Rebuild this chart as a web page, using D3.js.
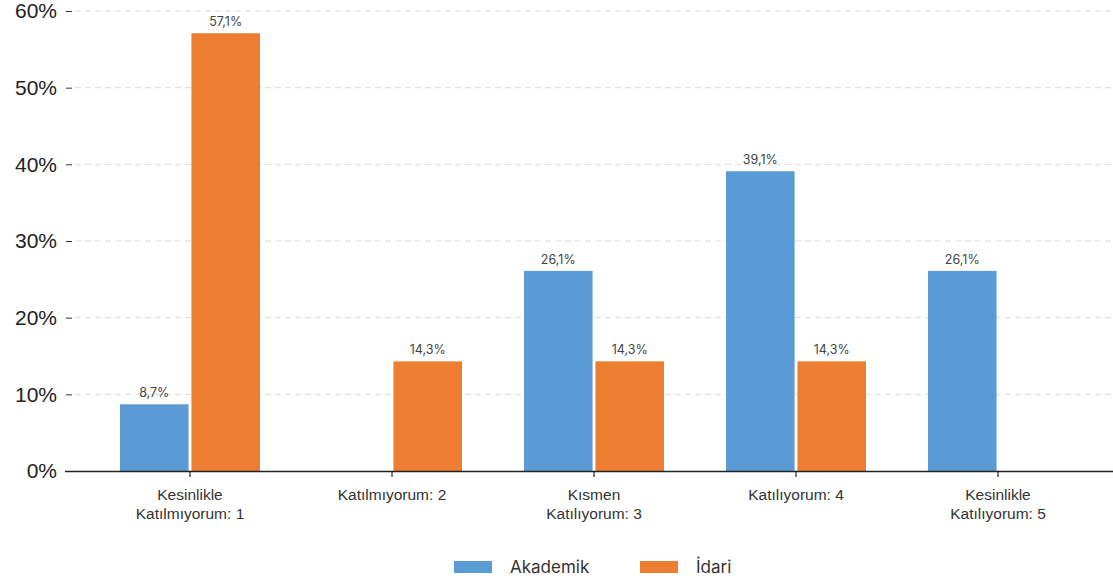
<!DOCTYPE html>
<html>
<head>
<meta charset="utf-8">
<script src="https://cdn.jsdelivr.net/npm/d3@7"></script>
<style>
	body { margin: 0; background: #fff; }
	svg { font-family: Inter, "Open Sans", sans-serif; }
	.grid line { stroke: #d9d9d9; stroke-dasharray: 6,4; }
	.axis--y .domain { display: none; }
	.axis--y text { font-size: 21px; fill: #222; }
	.axis--x text { font-size: 15.5px; fill: #333; }
	.value { font-size: 12.5px; fill: #444; text-anchor: middle; }
	.legend text { font-size: 17px; fill: #333; }
</style>
</head>
<body>
<svg width="1113" height="584"></svg>
<script>
var categories = ["Kesinlikle Katılmıyorum: 1", "Katılmıyorum: 2", "Kısmen Katılıyorum: 3", "Katılıyorum: 4", "Kesinlikle Katılıyorum: 5"];
var catLines = [["Kesinlikle", "Katılmıyorum: 1"], ["Katılmıyorum: 2"], ["Kısmen", "Katılıyorum: 3"], ["Katılıyorum: 4"], ["Kesinlikle", "Katılıyorum: 5"]];
var seriesNames = ["Akademik", "İdari"];
var akademik = [8.7, 0, 26.1, 39.1, 26.1];
var idari = [57.1, 14.3, 14.3, 14.3, 0];
var yTicks = [0, 10, 20, 30, 40, 50, 60];
var colors = ["#5b9bd5", "#ed7d31"];

var svg = d3.select("svg");

var x = d3.scaleBand()
	.domain(categories)
	.range([89, 1099]);

var x1 = d3.scaleBand()
	.domain(seriesNames)
	.range([x.bandwidth() / 2 - 70, x.bandwidth() / 2 + 70])
	.paddingInner(0.04);

var y = d3.scaleLinear()
	.domain([0, 60])
	.range([471, 11]);

// gridlines
svg.append("g")
	.attr("class", "grid")
	.selectAll("line")
	.data(yTicks.filter(function(d) { return d > 0; }))
	.enter().append("line")
	.attr("x1", 75)
	.attr("x2", 1113)
	.attr("y1", function(d) { return y(d); })
	.attr("y2", function(d) { return y(d); });

// y axis
svg.append("g")
	.attr("class", "axis axis--y")
	.attr("transform", "translate(72,0)")
	.call(d3.axisLeft(y).tickValues(yTicks).tickSize(6).tickPadding(9)
		.tickFormat(function(d) { return d + "%"; }))
	.selectAll(".tick line").attr("stroke", "#333");

// bars
var data = categories.map(function(c, i) {
	return { cat: c, values: [akademik[i], idari[i]] };
});

var groups = svg.append("g")
	.selectAll("g")
	.data(data)
	.enter().append("g")
	.attr("transform", function(d) { return "translate(" + x(d.cat) + ",0)"; });

groups.selectAll("rect")
	.data(function(d) { return d.values.map(function(v, j) { return { s: seriesNames[j], v: v, j: j }; }); })
	.enter().filter(function(d) { return d.v > 0; })
	.append("rect")
	.attr("x", function(d) { return x1(d.s); })
	.attr("width", x1.bandwidth())
	.attr("y", function(d) { return y(d.v); })
	.attr("height", function(d) { return y(0) - y(d.v); })
	.attr("fill", function(d) { return colors[d.j]; });

groups.selectAll("text")
	.data(function(d) { return d.values.map(function(v, j) { return { s: seriesNames[j], v: v }; }); })
	.enter().filter(function(d) { return d.v > 0; })
	.append("text")
	.attr("class", "value")
	.attr("x", function(d) { return x1(d.s) + x1.bandwidth() / 2; })
	.attr("y", function(d) { return y(d.v) - 7; })
	.text(function(d) { return String(d.v.toFixed(1)).replace(".", ",") + "%"; });

// x axis
var xAxis = svg.append("g")
	.attr("class", "axis axis--x")
	.attr("transform", "translate(0," + y(0) + ")")
	.call(d3.axisBottom(x).tickSize(6).tickFormat(""));

xAxis.select(".domain").attr("d", "M65,0.5H1113").attr("stroke", "#222").attr("stroke-width", 1.5);

xAxis.selectAll(".tick").each(function(d, i) {
	var t = d3.select(this).append("text")
		.attr("fill", "#333")
		.attr("text-anchor", "middle")
		.attr("y", 29);
	catLines[i].forEach(function(line, k) {
		t.append("tspan").attr("x", 0).attr("dy", k === 0 ? 0 : 19).text(line);
	});
});

// legend
var legend = svg.append("g").attr("class", "legend");
var legendX = [454, 640];
seriesNames.forEach(function(s, i) {
	legend.append("rect")
		.attr("x", legendX[i]).attr("y", 561)
		.attr("width", 38).attr("height", 12)
		.attr("fill", colors[i]);
	legend.append("text")
		.attr("x", legendX[i] + 56).attr("y", 573)
		.text(s);
});
</script>
</body>
</html>
